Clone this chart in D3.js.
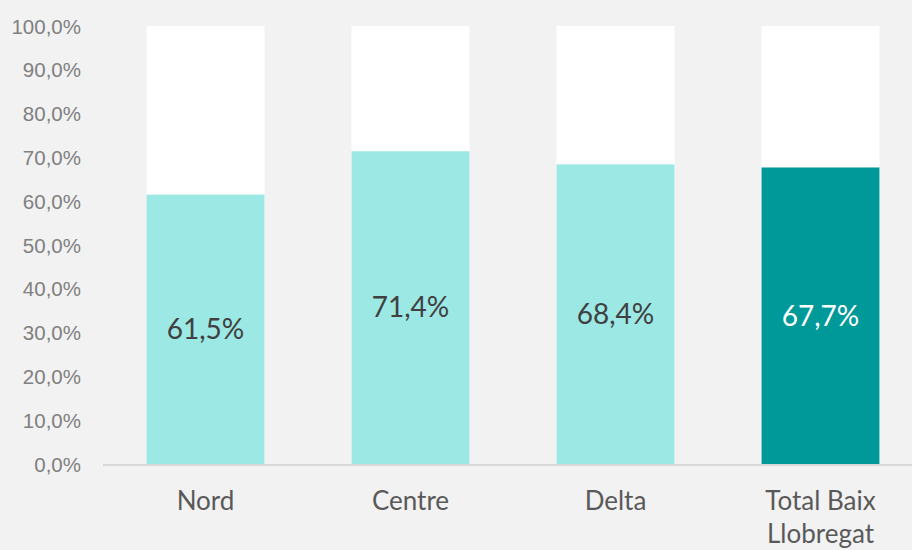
<!DOCTYPE html>
<html>
<head>
<meta charset="utf-8">
<script src="https://cdn.jsdelivr.net/npm/d3@7"></script>
<style>
  html, body { margin: 0; padding: 0; background: #f2f2f2; }
  svg { display: block; font-family: Lato, "Open Sans", sans-serif; }
</style>
</head>
<body>
<div id="chart"></div>
<script>
      var w = 912;
      var h = 550;

      var categories = [["Nord"], ["Centre"], ["Delta"], ["Total Baix", "Llobregat"]];
      var values = [61.5, 71.4, 68.4, 67.7];
      var tickValues = [0, 10, 20, 30, 40, 50, 60, 70, 80, 90, 100];

      var fmt = function(v) { return d3.format(".1f")(v).replace(".", ",") + "%"; };

      var xScale = d3.scaleBand()
              .domain(d3.range(categories.length))
              .range([103, 923])
              .paddingInner(0.425)
              .paddingOuter(0.2125);

      var yScale = d3.scaleLinear()
              .domain([0, 100])
              .range([464, 26]);

      //Create SVG element
      var svg = d3.select("#chart")
            .append("svg")
            .attr("width", w)
            .attr("height", h);

      svg.append("rect")
         .attr("width", w)
         .attr("height", h)
         .attr("fill", "#f2f2f2");

      //Y axis labels
      var yAxis = d3.axisLeft(yScale)
              .tickValues(tickValues)
              .tickFormat(fmt)
              .tickSize(0)
              .tickPadding(0);

      var yG = svg.append("g")
         .attr("transform", "translate(81,0)")
         .call(yAxis);
      yG.select(".domain").remove();
      yG.selectAll("text")
         .attr("fill", "#808080")
         .style("font-size", "20.5px")
         .attr("dy", "0.35em");

      //Background (100%) bars
      svg.selectAll("rect.bg")
         .data(values)
         .enter()
         .append("rect")
         .attr("class", "bg")
         .attr("x", function(d, i) { return xScale(i); })
         .attr("y", yScale(100))
         .attr("width", xScale.bandwidth())
         .attr("height", yScale(0) - yScale(100))
         .attr("fill", "#ffffff");

      //Value bars
      svg.selectAll("rect.val")
         .data(values)
         .enter()
         .append("rect")
         .attr("class", "val")
         .attr("x", function(d, i) { return xScale(i); })
         .attr("y", function(d) { return yScale(d); })
         .attr("width", xScale.bandwidth())
         .attr("height", function(d) { return yScale(0) - yScale(d); })
         .attr("fill", function(d, i) { return i === values.length - 1 ? "#009999" : "#9ce8e4"; });

      //Baseline
      svg.append("line")
         .attr("x1", 103)
         .attr("x2", w)
         .attr("y1", yScale(0) + 1)
         .attr("y2", yScale(0) + 1)
         .attr("stroke", "#d9d9d9")
         .attr("stroke-width", 2);

      //Value labels
      svg.selectAll("text.val")
         .data(values)
         .enter()
         .append("text")
         .attr("class", "val")
         .attr("x", function(d, i) { return xScale(i) + xScale.bandwidth() / 2; })
         .attr("y", function(d) { return yScale(d / 2); })
         .attr("dy", "0.35em")
         .attr("text-anchor", "middle")
         .style("font-size", "28px")
         .attr("fill", function(d, i) { return i === values.length - 1 ? "#ffffff" : "#404040"; })
         .text(fmt);

      //Category labels
      var cat = svg.selectAll("text.cat")
         .data(categories)
         .enter()
         .append("text")
         .attr("class", "cat")
         .attr("text-anchor", "middle")
         .attr("fill", "#595959")
         .style("font-size", "26px");

      cat.selectAll("tspan")
         .data(function(d, i) { return d.map(function(t) { return [t, i]; }); })
         .enter()
         .append("tspan")
         .attr("x", function(d) { return xScale(d[1]) + xScale.bandwidth() / 2; })
         .attr("y", function(d, j) { return 510 + j * 33; })
         .text(function(d) { return d[0]; });
</script>
</body>
</html>
